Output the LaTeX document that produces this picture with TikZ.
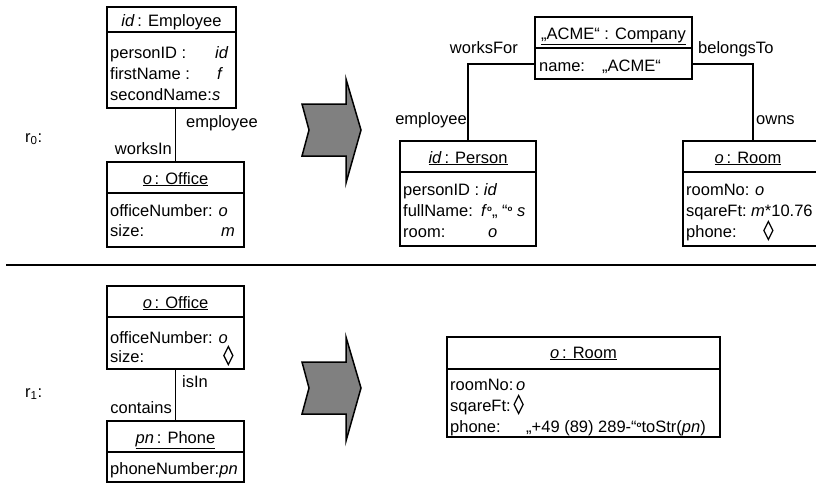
\documentclass[tikz,border=0pt]{standalone}
\usepackage{fontspec}
\setmainfont{Liberation Sans}
\newcommand\cc{\raisebox{.55ex}{\fontsize{8}{8}\selectfont\bfseries o}}
\newcommand\dia{\tikz[baseline=0pt,x=1pt,y=1pt]\draw[line width=1.3pt,line join=miter] (4.5,-2.5)--(9,6.5)--(4.5,15.5)--(0,6.5)--cycle;}
\begin{document}
\begin{tikzpicture}[x=1pt,y=-1pt,
 box/.style={draw,line width=1.2pt,anchor=north west,inner sep=0pt,outer sep=0pt},
 txt/.style={inner sep=0pt,anchor=base west,font=\fontsize{16.5}{19}\selectfont},
 ctxt/.style={txt,anchor=base},
 rtxt/.style={txt,anchor=base east},
 conn/.style={line width=1.2pt},
 bigarrow/.style={draw,line width=1.5pt,fill=gray,line join=miter}]
\useasboundingbox (0,0) rectangle (816,483);

% ---------- r0 ----------
\node[txt] (r0) at (25,142) {r\textsubscript{0}:};

\node[box,minimum width=129pt,minimum height=101pt] (emp) at (107,7) {};
\draw[conn] ([yshift=-25pt]emp.north west) -- ([yshift=-25pt]emp.north east);
\node[ctxt] (empH) at (171.5,26) {\underline{\textit{id}\,: Employee}};
\node[txt] (e1) at (110,58) {personID :};
\node[txt] (e1v) at (215,58) {\textit{id}};
\node[txt] (e2) at (110,79) {firstName :};
\node[txt] (e2v) at (217,79) {\textit{f}};
\node[txt] (e3) at (110,100) {secondName:\textit{s}};

\node[box,minimum width=137pt,minimum height=85pt] (off) at (107,162) {};
\draw[conn] ([yshift=-31pt]off.north west) -- ([yshift=-31pt]off.north east);
\node[ctxt] (offH) at (175.5,184) {\underline{\textit{o}\,: Office}};
\node[txt] (o1) at (110,216) {officeNumber: \textit{o}};
\node[txt] (o2) at (110,236) {size:};
\node[txt] (o2v) at (221,236) {\textit{m}};

\draw[conn] (off.north |- emp.south) -- (off.north);
\node[txt] (l1) at (186,127) {employee};
\node[rtxt] (l2) at (172,154) {worksIn};

\draw[bigarrow] (302,104) -- (346,104) -- (346,79) -- (361,130) -- (346,183) -- (346,156) -- (302,156) -- (309,130) -- cycle;

% Company
\node[box,minimum width=157pt,minimum height=62pt] (comp) at (535,17) {};
\draw[conn] ([yshift=-31pt]comp.north west) -- ([yshift=-31pt]comp.north east);
\node[ctxt] (compH) at (613.5,39) {\underline{„ACME“ : Company}};
\node[txt] (c1) at (539,71) {name:};
\node[txt] (c1v) at (602,71) {„ACME“};

% Person
\node[box,minimum width=136pt,minimum height=105pt] (per) at (400,141) {};
\draw[conn] ([yshift=-31pt]per.north west) -- ([yshift=-31pt]per.north east);
\node[ctxt] (perH) at (468,163) {\underline{\textit{id}\,: Person}};
\node[txt] (p1) at (403,195) {personID : \textit{id}};
\node[txt] (p2) at (403,216) {fullName:};
\node[txt] (p2v) at (481,216) {\textit{f}\cc„ “\cc\ \textit{s}};
\node[txt] (p3) at (403,237) {room:};
\node[txt] (p3v) at (488,237) {\textit{o}};

% Room
\node[box,minimum width=140pt,minimum height=105pt] (room) at (683,141) {};
\draw[conn] ([yshift=-31pt]room.north west) -- ([yshift=-31pt]room.north east);
\node[ctxt] (roomH) at (748,163) {\underline{\textit{o}\,: Room}};
\node[txt] (m1) at (686,195) {roomNo:};
\node[txt] (m1v) at (755,195) {\textit{o}};
\node[txt] (m2) at (686,216) {sqareFt:};
\node[txt] (m2v) at (751,216) {\textit{m}*10.76};
\node[txt] (m3) at (686,237) {phone:};
\node[txt] (m3v) at (763,237) {\dia};

\draw[conn] ([yshift=15pt]comp.south west) -| (per.north);
\draw[conn] ([yshift=15pt]comp.south east) -| (room.north);
\node[rtxt] (l3) at (518,53) {worksFor};
\node[txt] (l4) at (698,53) {belongsTo};
\node[rtxt] (l5) at (467,124) {employee};
\node[txt] (l6) at (756,124) {owns};

% separator
\coordinate (sepL) at (6,265);
\coordinate (sepR) at (816,265);
\draw[line width=2pt] (sepL) -- (sepR);

% ---------- r1 ----------
\node[txt] (r1) at (25,397) {r\textsubscript{1}:};

\node[box,minimum width=137pt,minimum height=83pt] (off2) at (107,286) {};
\draw[conn] ([yshift=-31pt]off2.north west) -- ([yshift=-31pt]off2.north east);
\node[ctxt] (off2H) at (175.5,308) {\underline{\textit{o}\,: Office}};
\node[txt] (q1) at (110,343) {officeNumber: \textit{o}};
\node[txt] (q2) at (110,362) {size:};
\node[txt] (q2v) at (223,362) {\dia};

\node[box,minimum width=137pt,minimum height=61pt] (ph) at (107,421) {};
\draw[conn] ([yshift=-31pt]ph.north west) -- ([yshift=-31pt]ph.north east);
\node[ctxt] (phH) at (175.5,443) {\underline{\textit{pn}\,: Phone}};
\node[txt] (ph1) at (110,474) {phoneNumber:\textit{pn}};

\draw[conn] (off2.south) -- (ph.north);
\node[txt] (l7) at (182,387) {isIn};
\node[rtxt] (l8) at (172,413) {contains};

\draw[bigarrow] (302,362) -- (346,362) -- (346,337) -- (361,388) -- (346,441) -- (346,414) -- (302,414) -- (309,388) -- cycle;

\node[box,minimum width=273pt,minimum height=100pt] (room2) at (447,337) {};
\draw[conn] ([yshift=-32pt]room2.north west) -- ([yshift=-32pt]room2.north east);
\node[ctxt] (room2H) at (583.5,358) {\underline{\textit{o}\,: Room}};
\node[txt] (n1) at (450,390) {roomNo:\,\textit{o}};
\node[txt] (n2) at (450,411) {sqareFt:\,\dia};
\node[txt] (n3) at (450,432) {phone:};
\node[txt] (n3v) at (526,432) {„+49 (89) 289-“\cc toStr(\textit{pn})};
\end{tikzpicture}
\end{document}
